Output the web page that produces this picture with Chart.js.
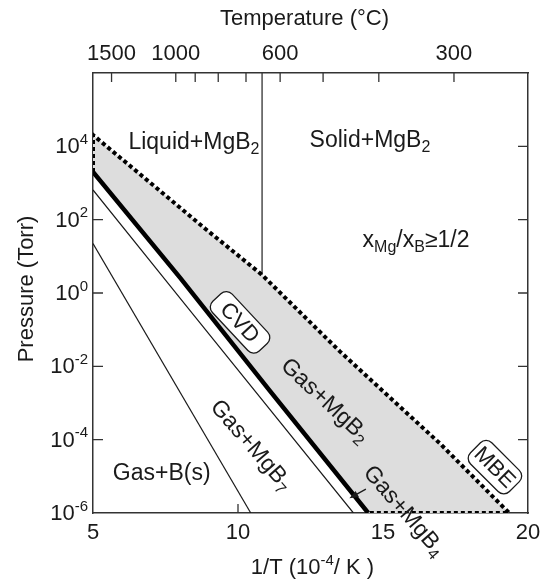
<!DOCTYPE html>
<html>
<head>
<meta charset="utf-8">
<script src="https://cdn.jsdelivr.net/npm/chart.js@4.4.1/dist/chart.umd.min.js"></script>
<style>
  html, body { margin: 0; padding: 0; background: #fff; }
  canvas { display: block; }
</style>
</head>
<body>
<canvas id="chart" width="545" height="582"></canvas>
<script>
// x is 1/T in 10^-4 / K, values below are log10 of pressure in Torr
const upperX = [5, 8.86, 10.82, 13.52, 16.97, 19.35];
const upperLogP = [4.31, 1.76, 0.50, -1.60, -4.11, -6];
const mgb2X = [5, 8.0, 11.1, 14.49];
const mgb2LogP = [3.30, 0.42, -2.67, -6];
const mgb4X = [5, 8.0, 13.98];
const mgb4LogP = [2.81, -0.14, -6];
const mgb7X = [5, 10.44];
const mgb7LogP = [1.35, -6];
const meltX = [10.83, 10.83];        // Mg melting point, 650 C
const meltLogP = [6, 0.5];

const xTicks = [5, 10, 15, 20];
const yTickExp = [-6, -4, -2, 0, 2, 4];
const tempTicks = [1500, 1000, 900, 800, 700, 600, 500, 400, 300];
const tempLabels = [1500, 1000, 600, 300];

const FONT = '"Liberation Sans", Arial, Helvetica, sans-serif';
const INK = '#1a1a1a';

const pts = (xs, lps) => xs.map((x, i) => ({ x: x, y: Math.pow(10, lps[i]) }));

// grey Gas+MgB2 window: dotted boundary then back along the thick line
const windowPts = pts(upperX, upperLogP).concat(pts(mgb2X, mgb2LogP).reverse());
windowPts.push(windowPts[0]);
const dottedPts = [pts(mgb2X, mgb2LogP)[0]].concat(pts(upperX, upperLogP), [pts(mgb2X, mgb2LogP)[mgb2X.length - 1]]);

// labels: position is [1/T, log10 P], rot in degrees
const labels = [
  { parts: [['Liquid+MgB'], ['2', 'sub']], at: [8.48, 4.11], rot: 0 },
  { parts: [['Solid+MgB'], ['2', 'sub']], at: [14.55, 4.15], rot: 0 },
  { parts: [['x'], ['Mg', 'sub'], ['/x'], ['B', 'sub'], ['≥1/2']], at: [16.14, 1.43], rot: 0 },
  { parts: [['Gas+B(s)']], at: [7.37, -4.92], rot: 0 },
  { parts: [['Gas+MgB'], ['2', 'sub']], at: [13.0, -2.94], rot: 43 },
  { parts: [['Gas+MgB'], ['4', 'sub']], at: [15.72, -5.95], rot: 49 },
  { parts: [['Gas+MgB'], ['7', 'sub']], at: [10.45, -4.16], rot: 49 },
];
const boxes = [
  { text: 'CVD', at: [10.07, -0.80], rot: 47, w: 68, h: 27 },
  { text: 'MBE', at: [18.86, -4.75], rot: 45, w: 55, h: 30 },
];
const arrow = { from: [14.41, -5.35], to: [13.84, -5.6] };

function drawRich(ctx, parts, x, y, size, align) {
  const runs = parts.map(([t, k]) => {
    const s = k ? Math.round(size * 0.68) : size;
    ctx.font = s + 'px ' + FONT;
    return { t: t, k: k, s: s, w: ctx.measureText(t).width };
  });
  const total = runs.reduce((a, r) => a + r.w, 0);
  let cx = align === 'center' ? x - total / 2 : align === 'right' ? x - total : x;
  ctx.textAlign = 'left';
  ctx.textBaseline = 'middle';
  runs.forEach(r => {
    ctx.font = r.s + 'px ' + FONT;
    const dy = r.k === 'sub' ? size * 0.3 : r.k === 'sup' ? -size * 0.34 : 0;
    ctx.fillText(r.t, cx, y + dy);
    cx += r.w;
  });
}

function roundRect(ctx, x, y, w, h, r) {
  ctx.beginPath();
  ctx.moveTo(x + r, y);
  ctx.lineTo(x + w - r, y);
  ctx.arcTo(x + w, y, x + w, y + r, r);
  ctx.lineTo(x + w, y + h - r);
  ctx.arcTo(x + w, y + h, x + w - r, y + h, r);
  ctx.lineTo(x + r, y + h);
  ctx.arcTo(x, y + h, x, y + h - r, r);
  ctx.lineTo(x, y + r);
  ctx.arcTo(x, y, x + r, y, r);
  ctx.closePath();
}

const overlay = {
  id: 'overlay',
  beforeDatasetsDraw(chart) {
    const ctx = chart.ctx, a = chart.chartArea;
    const sx = chart.scales.x, sy = chart.scales.y;
    ctx.save();
    ctx.strokeStyle = '#333';
    ctx.lineWidth = 1.3;
    ctx.beginPath();
    yTickExp.forEach(e => {
      if (e <= -6) return;
      const y = sy.getPixelForValue(Math.pow(10, e));
      ctx.moveTo(a.left, y); ctx.lineTo(a.left + 10, y);
      ctx.moveTo(a.right, y); ctx.lineTo(a.right - 10, y);
    });
    xTicks.forEach(v => {
      if (v === 5 || v === 20) return;
      const x = sx.getPixelForValue(v);
      ctx.moveTo(x, a.bottom); ctx.lineTo(x, a.bottom - 9);
    });
    tempTicks.forEach(t => {
      const x = sx.getPixelForValue(1e4 / (t + 273.15));
      ctx.moveTo(x, a.top); ctx.lineTo(x, a.top + 9);
    });
    ctx.stroke();
    ctx.restore();
  },
  afterDatasetsDraw(chart) {
    const ctx = chart.ctx, a = chart.chartArea;
    const sx = chart.scales.x, sy = chart.scales.y;
    const P = p => [sx.getPixelForValue(p[0]), sy.getPixelForValue(Math.pow(10, p[1]))];
    ctx.save();
    ctx.fillStyle = INK;

    // axis numbers
    ctx.font = '22px ' + FONT;
    ctx.textAlign = 'center';
    ctx.textBaseline = 'middle';
    xTicks.forEach(v => ctx.fillText(String(v), sx.getPixelForValue(v), a.bottom + 20));
    tempLabels.forEach(t => ctx.fillText(String(t), sx.getPixelForValue(1e4 / (t + 273.15)), a.top - 19));
    yTickExp.forEach(e => {
      const y = sy.getPixelForValue(Math.pow(10, e));
      drawRich(ctx, [['10'], [String(e), 'sup']], a.left - 5, y + 1, 22, 'right');
    });

    // axis titles
    drawRich(ctx, [['Temperature (°C)']], (a.left + a.right) / 2 - 6, 19, 22, 'center');
    drawRich(ctx, [['1/T (10'], ['-4', 'sup'], ['/ K )']], (a.left + a.right) / 2 + 2, a.bottom + 55, 22, 'center');
    ctx.save();
    ctx.translate(27, (a.top + a.bottom) / 2 - 4);
    ctx.rotate(-Math.PI / 2);
    drawRich(ctx, [['Pressure (Torr)']], 0, 0, 22, 'center');
    ctx.restore();

    // region labels
    labels.forEach(l => {
      const [x, y] = P(l.at);
      ctx.save();
      ctx.translate(x, y);
      ctx.rotate(l.rot * Math.PI / 180);
      drawRich(ctx, l.parts, 0, 0, 23, 'center');
      ctx.restore();
    });

    // CVD / MBE tags
    boxes.forEach(b => {
      const [x, y] = P(b.at);
      ctx.save();
      ctx.translate(x, y);
      ctx.rotate(b.rot * Math.PI / 180);
      roundRect(ctx, -b.w / 2, -b.h / 2, b.w, b.h, 8);
      ctx.fillStyle = '#fff';
      ctx.fill();
      ctx.strokeStyle = INK;
      ctx.lineWidth = 1.3;
      ctx.stroke();
      ctx.fillStyle = INK;
      drawRich(ctx, [[b.text]], 0, 1, 22, 'center');
      ctx.restore();
    });

    // arrow into the thin Gas+MgB4 band
    const [x1, y1] = P(arrow.from), [x2, y2] = P(arrow.to);
    const ang = Math.atan2(y2 - y1, x2 - x1);
    ctx.strokeStyle = INK;
    ctx.lineWidth = 1.3;
    ctx.beginPath();
    ctx.moveTo(x1, y1);
    ctx.lineTo(x2 - 6 * Math.cos(ang), y2 - 6 * Math.sin(ang));
    ctx.stroke();
    ctx.beginPath();
    ctx.moveTo(x2, y2);
    ctx.lineTo(x2 - 9 * Math.cos(ang) + 3.5 * Math.sin(ang), y2 - 9 * Math.sin(ang) - 3.5 * Math.cos(ang));
    ctx.lineTo(x2 - 9 * Math.cos(ang) - 3.5 * Math.sin(ang), y2 - 9 * Math.sin(ang) + 3.5 * Math.cos(ang));
    ctx.closePath();
    ctx.fill();
    ctx.restore();
  }
};

const hiddenAxis = (pos, extra) => Object.assign({
  position: pos,
  ticks: { display: false },
  grid: { display: false, drawTicks: false },
  border: { display: true, color: '#333', width: 1.5 },
  afterFit(s) { if (s.isHorizontal()) s.height = 0; else s.width = 0; }
}, extra);

new Chart(document.getElementById('chart').getContext('2d'), {
  type: 'scatter',
  data: {
    datasets: [
      { data: pts(mgb2X, mgb2LogP), showLine: true, borderColor: '#000', borderWidth: 4.5, pointRadius: 0, order: 1 },
      { data: dottedPts, showLine: true, borderColor: '#000', borderWidth: 4, borderDash: [4, 3], pointRadius: 0, order: 2 },
      { data: pts(mgb4X, mgb4LogP), showLine: true, borderColor: INK, borderWidth: 1.2, pointRadius: 0, order: 3 },
      { data: pts(mgb7X, mgb7LogP), showLine: true, borderColor: INK, borderWidth: 1.2, pointRadius: 0, order: 3 },
      { data: pts(meltX, meltLogP), showLine: true, borderColor: '#333', borderWidth: 1.3, pointRadius: 0, order: 3 },
      { data: windowPts, showLine: true, borderWidth: 0, borderColor: 'rgba(0,0,0,0)', backgroundColor: '#dddddd', fill: 'shape', pointRadius: 0, order: 9 },
    ]
  },
  options: {
    responsive: false,
    animation: false,
    events: [],
    layout: { padding: { left: 93, top: 73, right: 17, bottom: 69 } },
    plugins: { legend: { display: false }, tooltip: { enabled: false } },
    scales: {
      x: hiddenAxis('bottom', { type: 'linear', min: 5, max: 20 }),
      xTop: hiddenAxis('top', { type: 'linear', axis: 'x', min: 5, max: 20 }),
      y: hiddenAxis('left', { type: 'logarithmic', min: 1e-6, max: 1e6 }),
      yRight: hiddenAxis('right', { type: 'logarithmic', axis: 'y', min: 1e-6, max: 1e6 }),
    }
  },
  plugins: [overlay]
});
</script>
</body>
</html>
